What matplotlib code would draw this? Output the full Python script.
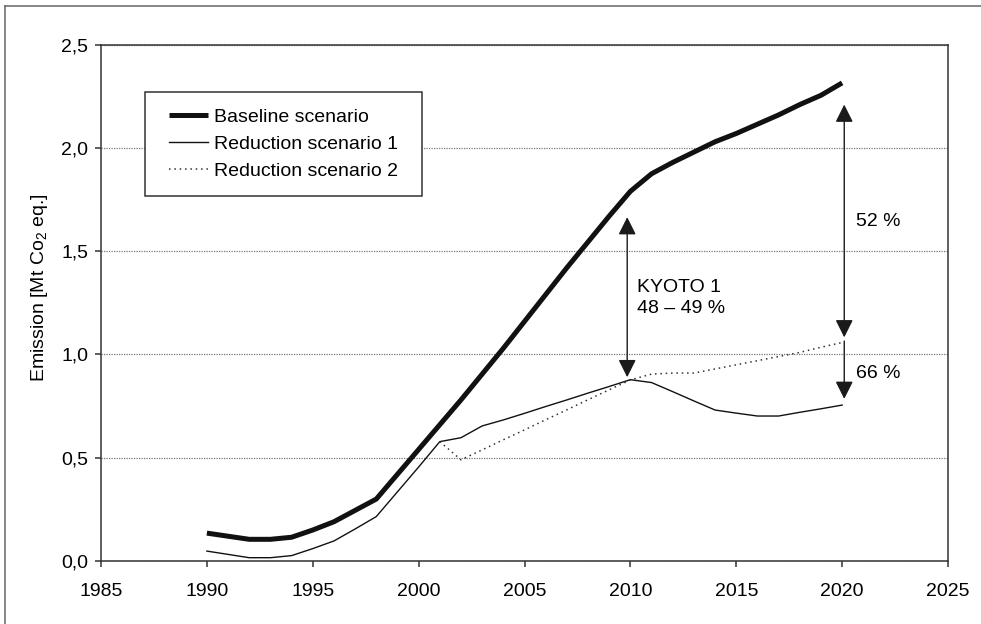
import numpy as np
import matplotlib
matplotlib.use('Agg')
from matplotlib import pyplot as plt
from matplotlib.path import Path
from matplotlib.lines import Line2D
from matplotlib.ticker import FuncFormatter

plt.rcParams['font.family'] = ['Liberation Sans', 'DejaVu Sans']
plt.rcParams['mathtext.fontset'] = 'custom'
plt.rcParams['mathtext.rm'] = 'Liberation Sans'

# data
years = list(range(1990, 2021))
baseline = [0.135, 0.12, 0.105, 0.105, 0.115, 0.15, 0.19, 0.245, 0.30, 0.42,
            0.54, 0.66, 0.78, 0.905, 1.03, 1.16, 1.29, 1.42, 1.545, 1.67,
            1.79, 1.875, 1.93, 1.98, 2.03, 2.07, 2.115, 2.16, 2.21, 2.255, 2.315]
reduction1 = [0.048, 0.032, 0.016, 0.016, 0.026, 0.06, 0.097, 0.155, 0.215, 0.335,
              0.455, 0.578, 0.597, 0.654, 0.683, 0.715, 0.748, 0.780, 0.813, 0.845,
              0.878, 0.864, 0.82, 0.775, 0.731, 0.716, 0.702, 0.702, 0.72, 0.737, 0.755]
years2 = list(range(2001, 2021))
reduction2 = [0.578, 0.49, 0.538, 0.587, 0.635, 0.684, 0.732, 0.781, 0.829, 0.877,
              0.905, 0.91, 0.91, 0.93, 0.95, 0.97, 0.99, 1.01, 1.035, 1.058]
labels = ['Baseline scenario', 'Reduction scenario 1', 'Reduction scenario 2']

fig = plt.figure(figsize=(9.81, 6.24), dpi=100)
ax = fig.add_axes([101/981, 63/624, 847/981, 516.3/624])

dark = '#111111'
ax.plot(years, baseline, color=dark, lw=3.6, solid_capstyle='butt', label=labels[0])
ax.plot(years, reduction1, color=dark, lw=1.0, label=labels[1])
ax.plot(years2, reduction2, color='#333333', lw=1.1, linestyle=(0, (1, 2.5)), label=labels[2])

ax.set_xlim(1985, 2025)
ax.set_ylim(0, 2.5)
ax.set_xticks(range(1985, 2026, 5))
ax.set_yticks(np.arange(0, 2.51, 0.5))
ax.yaxis.set_major_formatter(FuncFormatter(lambda v, p: ('%.1f' % v).replace('.', ',')))
ax.tick_params(axis='both', labelsize=14, length=4, width=1.1, color='#333333')
ax.tick_params(axis='y', pad=5)
ax.tick_params(axis='x', pad=12)
for s in ax.spines.values():
    s.set_linewidth(1.1)
    s.set_color('#333333')
ax.yaxis.grid(True, color='#777777', lw=0.9, linestyle=(0, (1, 1)))
ax.set_axisbelow(True)

fig.text(40/981, 1 - 288/624, 'Emission [Mt Co$_2$ eq.]', rotation=90,
         ha='center', va='center', fontsize=14)

# arrows
ap2 = dict(arrowstyle='<|-|>,head_length=1.08,head_width=0.54', color='#1a1a1a',
           lw=1.0, mutation_scale=10, shrinkA=0, shrinkB=0)
ap1 = dict(arrowstyle='-|>,head_length=1.08,head_width=0.54', color='#1a1a1a',
           lw=1.0, mutation_scale=10, shrinkA=0, shrinkB=0)
ax.annotate('', xy=(2009.85, 0.89), xytext=(2009.85, 1.665), arrowprops=ap2)
ax.annotate('', xy=(2020.1, 1.083), xytext=(2020.1, 2.21), arrowprops=ap2)
ax.annotate('', xy=(2020.1, 0.785), xytext=(2020.1, 1.065), arrowprops=ap1)

ax.text(2010.3, 1.272, 'KYOTO 1\n48 – 49 %', fontsize=14, va='center', ha='left',
        linespacing=1.3)
ax.text(2020.64, 1.642, '52 %', fontsize=14, va='center', ha='left')
ax.text(2020.64, 0.907, '66 %', fontsize=14, va='center', ha='left')


# legend box with extra horizontal padding
def wide_box(x0, y0, width, height, mutation_size):
    dx = 0.4 * mutation_size
    return Path([(x0 - dx, y0), (x0 + width + dx, y0), (x0 + width + dx, y0 + height),
                 (x0 - dx, y0 + height), (x0 - dx, y0)], closed=True)


leg = ax.legend(loc='upper left', bbox_to_anchor=(0.061, 0.909), borderaxespad=0,
                fontsize=14, frameon=True, fancybox=False, edgecolor='#333333',
                borderpad=0.85, labelspacing=0.48, handlelength=2.0, handletextpad=0.3)
leg.get_frame().set_linewidth(1.1)
leg.get_frame().set_boxstyle(wide_box)
leg.get_frame().set_alpha(None)
leg.get_frame().set_facecolor('white')

# outer frame (left and top edges visible)
fig.add_artist(Line2D([5/981, 5/981], [0, 1 - 6/624], color='#666666', lw=1.1,
                      transform=fig.transFigure))
fig.add_artist(Line2D([5/981, 1], [1 - 6/624, 1 - 6/624], color='#666666', lw=1.1,
                      transform=fig.transFigure))

fig.savefig('out.png', dpi=100)
